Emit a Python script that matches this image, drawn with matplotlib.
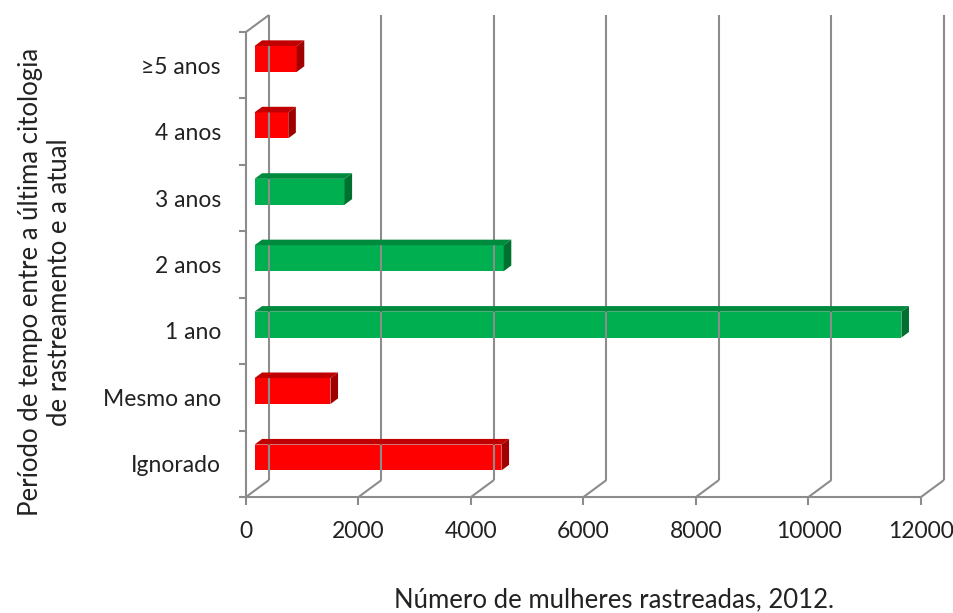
import matplotlib
matplotlib.use("Agg")
import matplotlib.pyplot as plt
from matplotlib.transforms import Affine2D, IdentityTransform
from matplotlib.patches import Polygon
from matplotlib.lines import Line2D

# Screening interval categories (bottom to top) and number of women screened
categories = ["Ignorado", "Mesmo ano", "1 ano", "2 anos", "3 anos", "4 anos", "\u22655 anos"]
values = [4390, 1350, 11500, 4430, 1600, 600, 750]
on_schedule = [False, False, True, True, True, False, False]
x_ticks = [0, 2000, 4000, 6000, 8000, 10000, 12000]

xlabel = "Número de mulheres rastreadas, 2012."
ylabel = "Período de tempo entre a última citologia\nde rastreamento e a atual"

FONT = ["Lato", "DejaVu Sans"]
plt.rcParams["font.family"] = FONT

W, H = 954, 613
DPI = 100
fig = plt.figure(figsize=(W / DPI, H / DPI), dpi=DPI)
ax = fig.add_axes([246 / W, (H - 497) / H, (921 - 246) / W, (497 - 32) / H])
ax.set_xlim(0, 12000)
ax.set_ylim(-0.5, len(categories) - 0.5)
ax.set_autoscale_on(False)
ax.patch.set_visible(False)

# oblique 3-D look: depth shifts right and up
DX, DY = 23.0, 17.0
GRID = "#8c8c8c"


def depth_tr(d):
    return ax.transData + Affine2D().translate(d * DX, d * DY)


def proj(x, y, d):
    return depth_tr(d).transform((x, y))


def seg(p, q, **kw):
    fig.add_artist(Line2D([p[0], q[0]], [p[1], q[1]], transform=IdentityTransform(),
                          color=GRID, lw=1.5, solid_capstyle="butt", **kw))


ylo, yhi = -0.5, len(categories) - 0.5

# back wall gridlines and floor connectors
for v in x_ticks:
    seg(proj(v, ylo, 1), proj(v, yhi, 1))
    seg(proj(v, ylo, 0), proj(v, ylo, 1))
# top edge of the side wall
seg(proj(0, yhi, 0), proj(0, yhi, 1))

# bars: front face, top face, side face
d_front, d_back = 0.37, 0.70
bh = 0.39
front_red, top_red, side_red = "#FF0000", "#C00000", "#A00000"
front_grn, top_grn, side_grn = "#00B050", "#008A3E", "#00702F"

for i, (v, ok) in enumerate(zip(values, on_schedule)):
    fc, tc, sc = (front_grn, top_grn, side_grn) if ok else (front_red, top_red, side_red)
    ax.barh(i, v, height=bh, left=0, color=fc, transform=depth_tr(d_front),
            clip_on=False, zorder=3)
    top = [proj(0, i + bh / 2, d_front), proj(v, i + bh / 2, d_front),
           proj(v, i + bh / 2, d_back), proj(0, i + bh / 2, d_back)]
    side = [proj(v, i - bh / 2, d_front), proj(v, i + bh / 2, d_front),
            proj(v, i + bh / 2, d_back), proj(v, i - bh / 2, d_back)]
    fig.add_artist(Polygon(top, closed=True, transform=IdentityTransform(),
                           facecolor=tc, edgecolor="none", zorder=3))
    fig.add_artist(Polygon(side, closed=True, transform=IdentityTransform(),
                           facecolor=sc, edgecolor="none", zorder=3))

# front axes
for s in ["top", "right"]:
    ax.spines[s].set_visible(False)
for s in ["left", "bottom"]:
    ax.spines[s].set_color(GRID)
    ax.spines[s].set_linewidth(1.5)

ax.set_xticks(x_ticks)
ax.set_xticklabels([str(t) for t in x_ticks])
ax.tick_params(axis="x", length=6, width=1.5, color=GRID, pad=11,
               labelsize=16.5, labelcolor="#222222")

ax.set_yticks(range(len(categories)))
ax.set_yticklabels(categories)
ax.set_yticks([k - 0.5 for k in range(len(categories) + 1)], minor=True)
ax.tick_params(axis="y", which="major", length=0, pad=18, labelsize=16.5,
               labelcolor="#222222")
ax.tick_params(axis="y", which="minor", length=5, width=1.5, color=GRID)

fig.text(614 / W, 1 - 600 / H, xlabel, ha="center", va="center", fontsize=18.5,
         color="#222222")
fig.text(45 / W, 1 - 282 / H, ylabel, ha="center", va="center", rotation=90,
         fontsize=18.5, color="#222222", multialignment="center", linespacing=1.2)

fig.savefig("out.png", dpi=DPI)
